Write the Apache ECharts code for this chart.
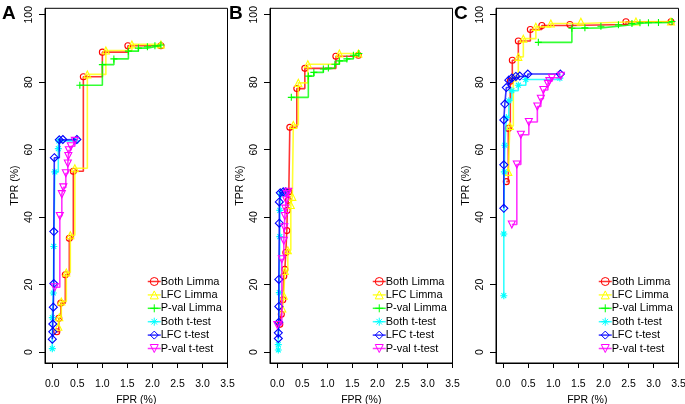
<!DOCTYPE html>
<html><head><meta charset="utf-8">
<script src="https://cdn.jsdelivr.net/npm/echarts@6/dist/echarts.min.js"></script>
<style>html,body{margin:0;padding:0;background:#fff}#c{width:685px;height:404px}</style>
</head><body><div id="c"></div>
<script>
// ---- data: [FPR (%), TPR (%)] ----
const seriesNames = ['Both Limma','LFC Limma','P-val Limma','Both t-test','LFC t-test','P-val t-test'];
const panelLabels = ['A','B','C'];
const xTicks = [0,0.5,1,1.5,2,2.5,3,3.5];
const yTicks = [0,20,40,60,80,100];

const A_bothLimma = [[0.09,6.0],[0.13,10.0],[0.17,14.5],[0.26,22.9],[0.34,33.7],[0.42,53.6],[0.62,81.6],[1.0,88.9],[1.51,90.8],[2.17,90.8]];
const A_lfcLimma  = [[0.12,7.5],[0.14,10.3],[0.18,15.0],[0.28,23.6],[0.36,34.6],[0.45,54.5],[0.7,82.3],[1.07,89.4],[1.59,91.2],[2.17,91.2]];
const A_pvalLimma = [[0.55,79.1],[1.0,85.2],[1.23,86.9],[1.52,89.2],[1.72,90.1],[1.9,90.5],[2.05,90.8],[2.17,91.0]];
const A_bothT     = [[0.0,1.0],[0.0,10.2],[0.02,17.5],[0.03,31.3],[0.05,53.4],[0.12,60.3],[0.13,62.6],[0.47,62.6]];
const A_lfcT      = [[0.0,3.8],[0.01,6.0],[0.01,8.3],[0.02,13.3],[0.03,20.3],[0.03,35.7],[0.04,57.6],[0.14,62.9],[0.21,63.0],[0.49,63.0]];
const A_pvalT     = [[0.05,19.2],[0.15,40.3],[0.19,46.8],[0.22,48.8],[0.27,53.0],[0.31,55.9],[0.32,58.1],[0.33,59.8],[0.37,61.0],[0.45,62.6]];

const B_bothLimma = [[0.05,8.2],[0.08,11.2],[0.11,15.5],[0.13,22.5],[0.15,24.5],[0.17,29.5],[0.19,36.0],[0.2,42.0],[0.22,45.0],[0.23,47.5],[0.25,66.6],[0.39,78.1],[0.55,84.1],[1.17,87.7],[1.62,88.0]];
const B_lfcLimma  = [[0.1,12.9],[0.13,16.7],[0.15,24.0],[0.21,30.2],[0.27,43.6],[0.3,46.0],[0.32,67.3],[0.42,79.8],[0.61,85.3],[1.24,88.5],[1.62,88.5]];
const B_pvalLimma = [[0.28,75.5],[0.62,81.8],[0.73,82.9],[0.92,83.9],[1.02,84.2],[1.15,85.3],[1.24,86.3],[1.39,86.9],[1.52,88.0],[1.63,88.5]];
const B_bothT     = [[0.02,0.6],[0.02,2.2],[0.04,17.6],[0.05,34.2],[0.05,42.0],[0.07,46.8],[0.15,47.0]];
const B_lfcT      = [[0.02,4.0],[0.02,5.7],[0.03,8.8],[0.03,13.5],[0.03,21.5],[0.04,38.2],[0.04,44.5],[0.06,47.2],[0.12,47.5],[0.17,47.5]];
const B_pvalT     = [[0.0,8.0],[0.09,27.5],[0.13,33.0],[0.14,37.0],[0.15,40.3],[0.16,42.5],[0.18,45.0],[0.19,46.8],[0.22,47.5]];

const C_bothLimma = [[0.06,50.5],[0.1,66.3],[0.14,80.3],[0.18,86.5],[0.3,92.2],[0.54,95.6],[0.77,96.8],[1.33,97.1],[2.45,97.9],[3.35,97.9]];
const C_lfcLimma  = [[0.1,53.4],[0.13,67.0],[0.2,81.4],[0.3,87.5],[0.4,92.9],[0.65,96.4],[0.95,97.4],[1.55,97.9],[2.65,98.0],[3.35,98.0]];
const C_pvalLimma = [[0.7,91.8],[1.37,96.0],[1.63,96.1],[1.95,96.6],[2.3,97.0],[2.57,97.4],[2.73,97.6],[2.9,97.6],[3.1,97.7],[3.37,98.0]];
const C_bothT     = [[0.01,16.7],[0.01,35.0],[0.02,53.4],[0.03,61.3],[0.06,69.5],[0.11,74.5],[0.17,77.5],[0.3,79.1],[0.45,80.8],[1.13,81.2]];
const C_lfcT      = [[0.01,42.6],[0.01,55.5],[0.01,68.8],[0.03,73.5],[0.06,78.4],[0.11,80.6],[0.17,81.2],[0.25,81.7],[0.33,81.8],[0.49,82.4],[1.14,82.4]];
const C_pvalT     = [[0.17,37.8],[0.27,55.6],[0.35,64.4],[0.51,68.2],[0.68,72.8],[0.75,75.1],[0.8,77.7],[0.89,79.5],[0.92,80.3],[0.97,81.3],[1.15,81.9]];

const panelData = [
  [A_bothLimma,A_lfcLimma,A_pvalLimma,A_bothT,A_lfcT,A_pvalT],
  [B_bothLimma,B_lfcLimma,B_pvalLimma,B_bothT,B_lfcT,B_pvalT],
  [C_bothLimma,C_lfcLimma,C_pvalLimma,C_bothT,C_lfcT,C_pvalT]
];

// ---- styles ----
const colors = ['#ff0000','#ffff00','#00ff00','#00ffff','#0000ff','#ff00ff'];
const symbols = [
  {symbol:'circle', size:6, rot:0},
  {symbol:'triangle', size:7, rot:0},
  {symbol:'path://M5,0L5,10M0,5L10,5', size:7, rot:0},
  {symbol:'path://M5,0L5,10M0,5L10,5M1.5,1.5L8.5,8.5M1.5,8.5L8.5,1.5', size:7, rot:0},
  {symbol:'diamond', size:8, rot:0},
  {symbol:'triangle', size:7, rot:180}
];
const FONT = 'Liberation Sans, Arial, sans-serif';
const gridLefts = [45, 270, 496];
const gridTop = 8.3, gridH = 354.7, gridW = 182.5;
const letterLefts = [2, 229, 454];

const grids = [], xAxes = [], yAxes = [], series = [], legends = [], titles = [];
for (let p = 0; p < 3; p++) {
  grids.push({left: gridLefts[p], top: gridTop, width: gridW, height: gridH, show: true,
    containLabel: false, outerBoundsMode: 'none',
    borderColor: '#000', borderWidth: 1, backgroundColor: 'transparent'});
  xAxes.push({gridIndex: p, type: 'value', min: -0.146, max: 3.5,
    axisLine: {show: true, onZero: false, lineStyle: {color: '#000', width: 1}},
    axisTick: {show: true, length: 5, customValues: xTicks, lineStyle: {color: '#000'}},
    axisLabel: {customValues: xTicks, formatter: v => v.toFixed(1), fontSize: 10.5,
      color: '#000', margin: 16, fontFamily: FONT},
    splitLine: {show: false},
    name: 'FPR (%)', nameLocation: 'middle', nameGap: 29,
    nameTextStyle: {fontSize: 10.5, color: '#000', fontFamily: FONT}});
  yAxes.push({gridIndex: p, type: 'value', min: -3.26, max: 101.9,
    axisLine: {show: true, onZero: false, lineStyle: {color: '#000', width: 1}},
    axisTick: {show: true, length: 6, customValues: yTicks, lineStyle: {color: '#000'}},
    axisLabel: {customValues: yTicks, rotate: 90, fontSize: 10.5, color: '#000',
      margin: 10, fontFamily: FONT},
    splitLine: {show: false},
    name: 'TPR (%)', nameLocation: 'middle', nameGap: 24,
    nameTextStyle: {fontSize: 10.5, color: '#000', fontFamily: FONT}});
  panelData[p].forEach((d, i) => {
    series.push({type: 'line', name: seriesNames[i], xAxisIndex: p, yAxisIndex: p,
      data: d, step: 'end', symbol: symbols[i].symbol, symbolSize: symbols[i].size,
      symbolRotate: symbols[i].rot, symbolKeepAspect: true, showAllSymbol: true, clip: false,
      lineStyle: {color: colors[i], width: 1.6, opacity: 0.8},
      itemStyle: {color: 'rgba(0,0,0,0)', borderColor: colors[i], borderWidth: 1.1},
      emphasis: {disabled: true}, z: 2 + i});
  });
  legends.push({show: true, orient: 'vertical', left: gridLefts[p] + 102, top: 276,
    padding: 0, itemWidth: 13, itemHeight: 10, itemGap: 2.4, selectedMode: false,
    data: seriesNames.map((n, i) => ({name: n,
      itemStyle: {color: 'rgba(0,0,0,0)', borderColor: colors[i], borderWidth: 1},
      lineStyle: {color: colors[i], width: 1.5}})),
    textStyle: {fontSize: 11, color: '#000', fontFamily: FONT, padding: [0,0,0,-5]}});
  titles.push({text: panelLabels[p], left: letterLefts[p], top: 4, padding: 0,
    textStyle: {fontSize: 19, fontWeight: 'bold', color: '#000', fontFamily: FONT}});
}

const chart = echarts.init(document.getElementById('c'), null, {renderer: 'canvas'});
chart.setOption({
  animation: false,
  backgroundColor: '#fff',
  textStyle: {fontFamily: FONT},
  title: titles, legend: legends, grid: grids, xAxis: xAxes, yAxis: yAxes, series: series
});
</script>
</body></html>
